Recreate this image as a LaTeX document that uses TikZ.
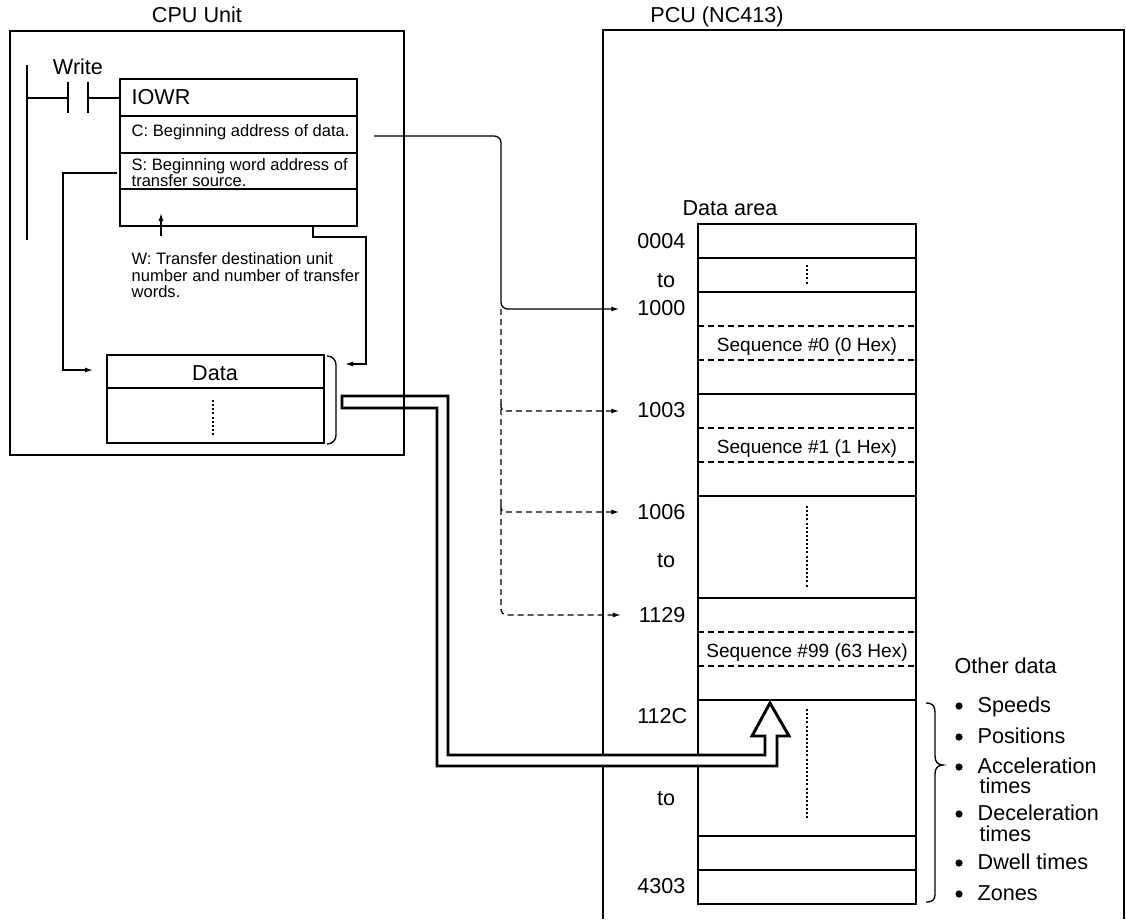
\documentclass[tikz,border=0pt]{standalone}
\usepackage{fontspec}
\setmainfont{Liberation Sans}
\usetikzlibrary{arrows.meta}
\begin{document}
\begin{tikzpicture}[x=0.75pt,y=-0.75pt,line width=1pt,
  big/.style={font=\fontsize{16.2}{17}\selectfont,inner sep=0pt},
  mid/.style={font=\fontsize{14.3}{15}\selectfont,inner sep=0pt},
  small/.style={font=\fontsize{12.4}{13}\selectfont,inner sep=0pt},
  arr/.style={-{Latex[length=6pt,width=3.8pt]}},
  dsh/.style={dash pattern=on 4.5pt off 3pt},
  dts/.style={line width=1.5pt,dash pattern=on 1.5pt off 1.6pt},
  bigarrow/.style={line width=2.2pt,fill=white,line join=miter},
  lbl/.style={big,anchor=base east}]
\useasboundingbox (0,0) rectangle (1126,920);

% titles
\node[big,anchor=base] (cpulbl) at (197,23) {CPU Unit};
\node[big,anchor=base] (pculbl) at (717,23) {PCU (NC413)};

% PCU frame
\draw (603,919) -- (603,30) -- (1124,30) -- (1124,919);

% ladder
\draw (27,65) -- (27,240);
\draw (27,98) -- (68,98);
\draw (68,82) -- (68,113);
\draw (88,82) -- (88,113);
\draw (88,98) -- (120,98);
\node[big,anchor=base] (write) at (78,75) {Write};

% IOWR box
\draw (120,79) rectangle (357,226);
\draw (120,116) -- (357,116);
\draw (120,153) -- (357,153);
\draw (120,189) -- (357,189);
\node[big,anchor=base west] (iowr) at (131,105) {IOWR};
\node[small,anchor=base west] (ctext) at (131,137) {C: Beginning address of data.};
\node[small,anchor=base west] (stext1) at (131,170) {S: Beginning word address of};
\node[small,anchor=base west] (stext2) at (131,186) {transfer source.};
\coordinate (wtail) at (161,236);
\coordinate (whead) at (161,213);
\draw[arr] (wtail) -- (whead);
\node[small,anchor=base west] (w1) at (131,264) {W: Transfer destination unit};
\node[small,anchor=base west] (w2) at (131,281) {number and number of transfer};
\node[small,anchor=base west] (w3) at (131,297) {words.};

% Data box
\draw (107,355) rectangle (324,443);
\draw (107,388) -- (324,388);
\node[big,anchor=base] (data) at (215,380) {Data};
\draw[dts] (213,400) -- (213,435);
\draw[rounded corners=6.5pt] (327,356) -- (336,356) -- (336,444) -- (327,444);

% S and W connectors
\coordinate (sout) at (117,173);
\coordinate (sin) at (93,370);
\draw[arr] (sout) -- (63,173) -- (63,370) -- (sin);
\coordinate (wout) at (313,226);
\coordinate (win) at (345,364);
\draw[arr] (wout) -- (313,237) -- (366,237) -- (366,364) -- (win);

% Data area
\node[big,anchor=base] (dalbl) at (730,215) {Data area};
\draw (698,224) rectangle (916,904);
\foreach \yy in {258,292,394,496,598,700,836,870}
  \draw (698,\yy) -- (916,\yy);
\foreach \yy in {326,360,428,462,632,666}
  \draw[dsh] (698,\yy) -- (916,\yy);
\draw[dts] (807,265) -- (807,284);
\draw[dts] (807,506) -- (807,587);
\draw[dts] (807,709) -- (807,818);
\node[mid,anchor=base] (seq0) at (807,351) {Sequence \#0 (0 Hex)};
\node[mid,anchor=base] (seq1) at (807,453) {Sequence \#1 (1 Hex)};
\node[mid,anchor=base] (seq99) at (807,657) {Sequence \#99 (63 Hex)};

\node[lbl] (a0004) at (686,248) {0004};
\node[big,anchor=base] (to1) at (666,287) {to};
\node[lbl] (a1000) at (686,315) {1000};
\node[lbl] (a1003) at (686,417) {1003};
\node[lbl] (a1006) at (686,519) {1006};
\node[big,anchor=base] (to2) at (666,567) {to};
\node[lbl] (a1129) at (686,622) {1129};
\node[lbl] (a112C) at (688,723) {112C};
\node[big,anchor=base] (to3) at (666,805) {to};
\node[lbl] (a4303) at (686,893) {4303};

% C connector
\coordinate (cout) at (374,136);
\draw[arr,rounded corners=5pt] (cout) -- (501,136) -- (501,309) -- ([xshift=-13]a1000.west |- 0,309);
\draw[dsh,arr,rounded corners=4pt] (501,309) -- (501,615) -- ([xshift=-13]a1129.west |- 0,615);
\draw[dsh,arr,rounded corners=3pt] (501,404) -- (501,411) -- ([xshift=-13]a1003.west |- 0,411);
\draw[dsh,arr,rounded corners=3pt] (501,505) -- (501,512) -- ([xshift=-13]a1006.west |- 0,512);

% big hollow arrow
\draw[bigarrow] (342,396) -- (448,396) -- (448,755) -- (765,755) -- (765,736)
  -- (752,736) -- (770,703) -- (789,736) -- (777,736) -- (777,766)
  -- (437,766) -- (437,408) -- (342,408) -- cycle;

% CPU frame
\draw (10,31) rectangle (404,455);

% Other data
\node[big,anchor=base west] (other) at (954,673) {Other data};
\draw (926,703) .. controls (933,703) and (935,706) .. (935,713) -- (935,756)
  .. controls (935,762) and (938,765) .. (943,765)
  .. controls (938,765) and (935,768) .. (935,774) -- (935,893)
  .. controls (935,900) and (933,902) .. (926,902);
\foreach \yy/\tx in {712/Speeds,743/Positions,773/Acceleration,820/Deceleration,869/Dwell times,900/Zones}{
  \fill (959,\yy-6) circle (2.7pt);
  \node[big,anchor=base west] at (977,\yy) {\tx};
}
\node[big,anchor=base west] (t1) at (979,793) {times};
\node[big,anchor=base west] (t2) at (979,841) {times};
\end{tikzpicture}
\end{document}
